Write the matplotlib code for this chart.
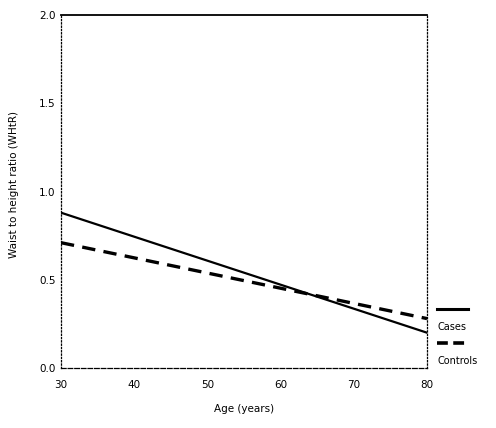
import matplotlib
matplotlib.use("Agg")
import matplotlib.pyplot as plt
from matplotlib.lines import Line2D

# data
age = [30, 80]
cases = [0.88, 0.20]
controls = [0.71, 0.28]
x_ticks = [30, 40, 50, 60, 70, 80]
y_ticks = [0.0, 0.5, 1.0, 1.5, 2.0]
y_tick_labels = ["0.0", "0.5", "1.0", "1.5", "2.0"]
legend_labels = ["Cases", "Controls"]

fig = plt.figure(figsize=(4.96, 4.28), dpi=100)
ax = fig.add_axes([61 / 496, 1 - 368 / 428, (427 - 61) / 496, (368 - 15) / 428])

ax.plot(age, cases, color="black", lw=1.6, linestyle="-")
ax.plot(age, controls, color="black", lw=2.4, linestyle=(0, (4, 2.5)))

ax.set_xlim(30, 80)
ax.set_ylim(0, 2.0)
ax.set_xticks(x_ticks)
ax.set_yticks(y_ticks)
ax.set_yticklabels(y_tick_labels)
ax.tick_params(length=0, labelsize=7.5)
ax.tick_params(axis="x", pad=9)
ax.tick_params(axis="y", pad=4)
ax.set_xlabel("Age (years)", fontsize=7.5, labelpad=10)
ax.set_ylabel("Waist to height ratio (WHtR)", fontsize=7.5, labelpad=14)
ax.yaxis.set_label_coords(-0.115, 0.52)

ax.spines["top"].set_linewidth(1.3)
ax.spines["left"].set_linestyle(":")
ax.spines["right"].set_linestyle(":")
ax.spines["bottom"].set_linestyle("--")
for s in ["left", "right", "bottom"]:
    ax.spines[s].set_linewidth(0.9)

# legend drawn as sample line above its label, outside the axes
styles = [dict(lw=2.2, linestyle="-"), dict(lw=2.6, linestyle=(0, (3, 1.5)))]
for i, (lab, st) in enumerate(zip(legend_labels, styles)):
    y_line = 1 - (309 + i * 34) / 428
    fig.add_artist(Line2D([437 / 496, 468 / 496], [y_line, y_line], color="black", **st))
    fig.text(437 / 496, y_line - 18 / 428, lab, fontsize=7, va="center", ha="left")

fig.savefig("out.png", dpi=100)
